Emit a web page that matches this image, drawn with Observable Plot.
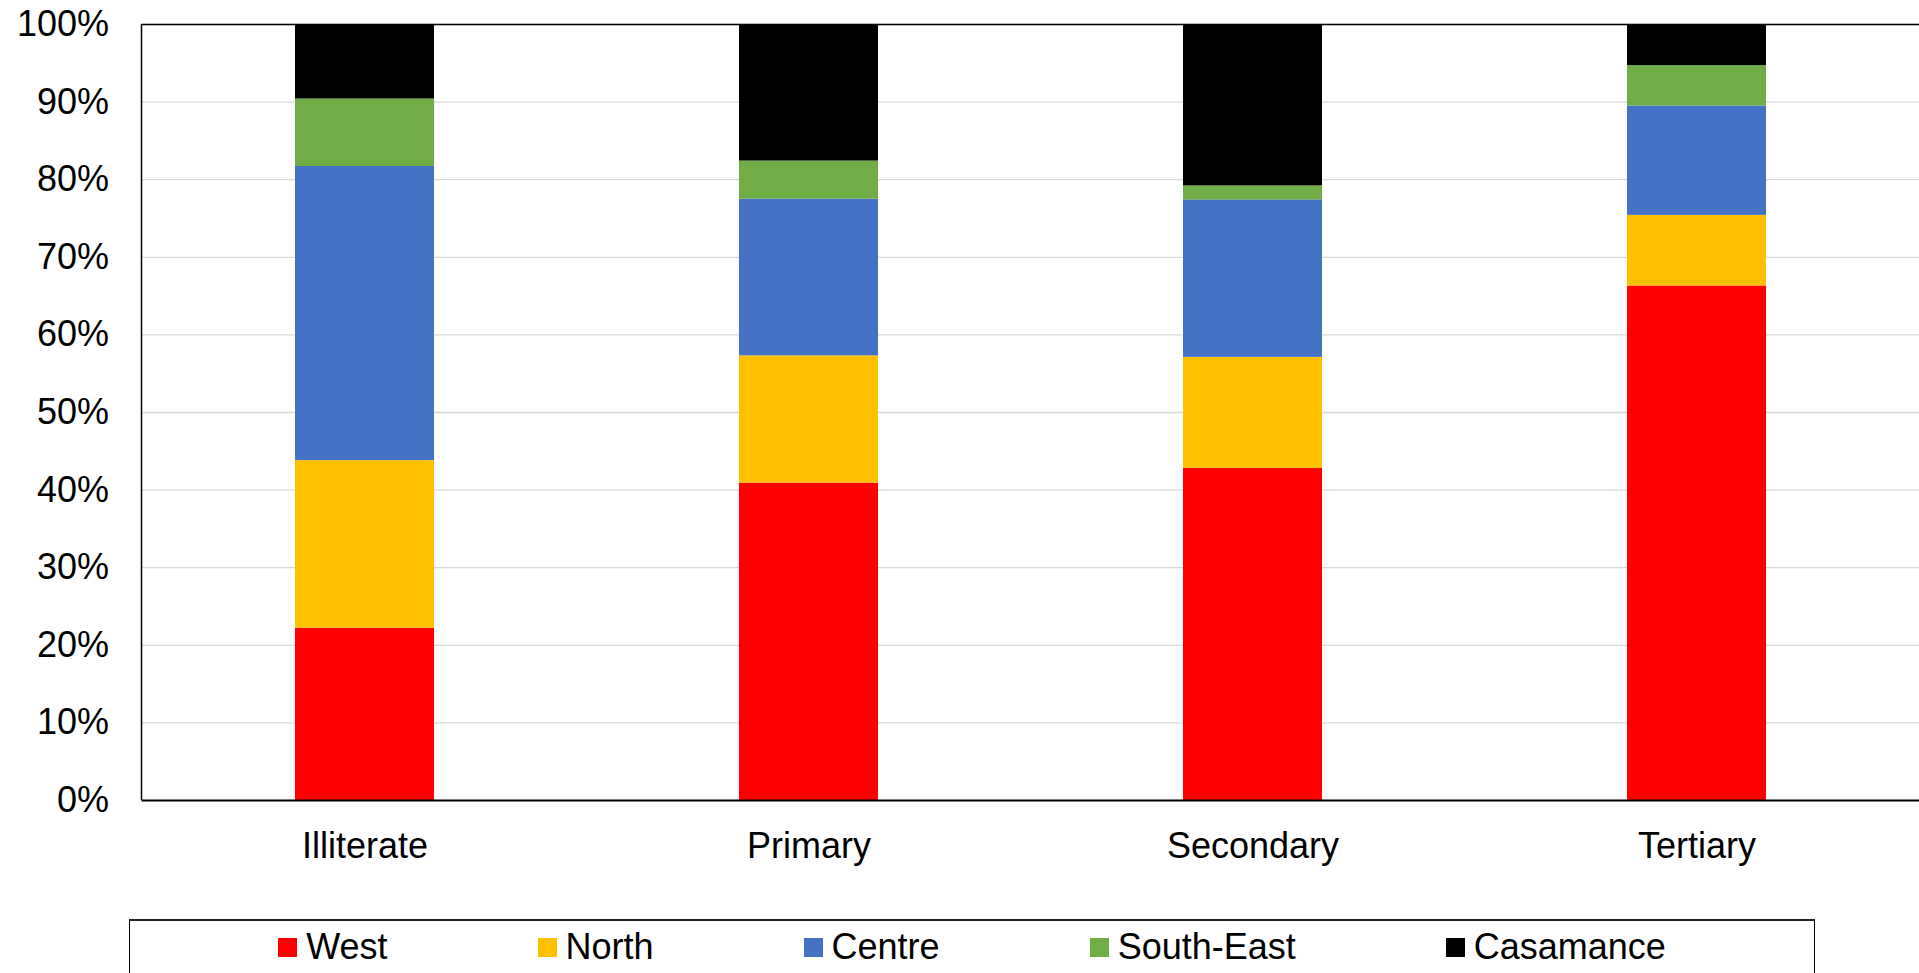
<!DOCTYPE html>
<html>
<head>
<meta charset="utf-8">
<script src="https://cdn.jsdelivr.net/npm/d3@7"></script>
<script src="https://cdn.jsdelivr.net/npm/@observablehq/plot@0.6"></script>
<style>
  html, body { margin: 0; padding: 0; background: #fff; overflow: hidden; }
  body { width: 1919px; height: 973px; font-family: "Liberation Sans", Arial, sans-serif; }
  #chart svg { display: block; }
  #legend {
    box-sizing: border-box;
    margin-left: 129px;
    margin-top: 14px;
    width: 1686px;
    height: 80px;
    border: 1px solid #000;
    border-top: 2px solid #222;
    padding-top: 6px;
    display: flex;
    justify-content: center;
    align-items: flex-start;
    gap: 150px;
    font-size: 36px;
    line-height: 40px;
    color: #000;
  }
  .item { display: flex; align-items: center; height: 40px; }
  .sw { width: 19px; height: 19px; margin-right: 9px; }
</style>
</head>
<body>
<div id="chart"></div>
<div id="legend"></div>
<script>
const categories = ["Illiterate", "Primary", "Secondary", "Tertiary"];
const regions = ["West", "North", "Centre", "South-East", "Casamance"];
const colors = ["#FF0000", "#FFC000", "#4472C4", "#70AD47", "#000000"];
const west = [22.2, 40.9, 42.8, 66.3];
const north = [21.6, 16.4, 14.3, 9.1];
const centre = [37.9, 20.2, 20.3, 14.1];
const southEast = [8.7, 4.9, 1.8, 5.2];
const casamance = [9.6, 17.6, 20.8, 5.3];
const yTicks = [0, 10, 20, 30, 40, 50, 60, 70, 80, 90, 100];

const series = [west, north, centre, southEast, casamance];
const data = [];
regions.forEach((r, i) => {
  categories.forEach((c, j) => data.push({category: c, region: r, value: series[i][j]}));
});

// left edge line of the plot area, drawn from the plot's own dimensions
function leftEdge(index, scales, values, dimensions) {
  const {marginLeft, marginTop, height, marginBottom} = dimensions;
  const line = document.createElementNS("http://www.w3.org/2000/svg", "line");
  line.setAttribute("x1", marginLeft);
  line.setAttribute("x2", marginLeft);
  line.setAttribute("y1", marginTop);
  line.setAttribute("y2", height - marginBottom);
  line.setAttribute("stroke", "#000");
  line.setAttribute("stroke-width", 1.5);
  return line;
}

const chart = Plot.plot({
  width: 1919,
  height: 905,
  marginLeft: 141.5,
  marginRight: 0,
  marginTop: 24,
  marginBottom: 105,
  style: {fontFamily: '"Liberation Sans", Arial, sans-serif', fontSize: "36px", color: "#000", background: "#fff"},
  x: {type: "band", domain: categories, paddingInner: 0.687, paddingOuter: 0.3435, label: null},
  y: {domain: [0, 100], label: null},
  color: {domain: regions, range: colors},
  marks: [
    Plot.gridY(yTicks, {stroke: "#d9d9d9", strokeOpacity: 1, strokeWidth: 1.3}),
    Plot.barY(data, {x: "category", y: "value", fill: "region", order: regions}),
    Plot.axisY(yTicks, {tickSize: 0, tickPadding: 33, tickFormat: d => d + "%", fontSize: 36, label: null}),
    Plot.axisX({tickSize: 0, tickPadding: 32, fontSize: 36, label: null}),
    leftEdge,
    Plot.ruleY([0], {stroke: "#000", strokeWidth: 2}),
    Plot.ruleY([100], {stroke: "#000", strokeWidth: 1.3})
  ]
});
document.getElementById("chart").appendChild(chart);

const legend = document.getElementById("legend");
regions.forEach((r, i) => {
  const it = document.createElement("div");
  it.className = "item";
  const sw = document.createElement("div");
  sw.className = "sw";
  sw.style.background = colors[i];
  const t = document.createElement("span");
  t.textContent = r;
  it.appendChild(sw);
  it.appendChild(t);
  legend.appendChild(it);
});
</script>
</body>
</html>
